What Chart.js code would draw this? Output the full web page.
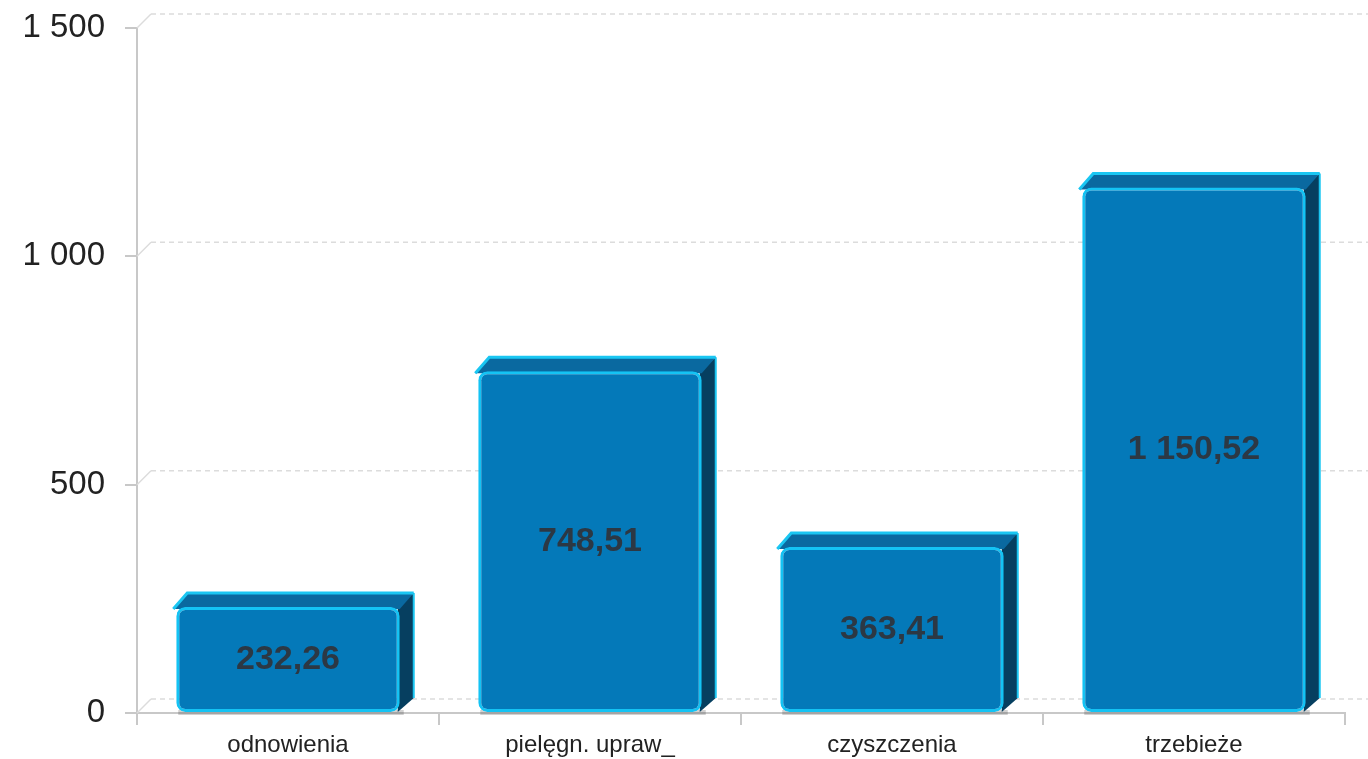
<!DOCTYPE html>
<html>
<head>
<meta charset="utf-8">
<script src="https://cdn.jsdelivr.net/npm/chart.js@4"></script>
<style>
  html, body { margin: 0; padding: 0; background: #fff; }
  #wrap { width: 1368px; height: 759px; position: relative; }
</style>
</head>
<body>
<div id="wrap"><canvas id="chart"></canvas></div>
<script>
'use strict';

// data
const categories = ['odnowienia', 'pielęgn. upraw_', 'czyszczenia', 'trzebieże'];
const values = [232.26, 748.51, 363.41, 1150.52];
const yTicks = [0, 500, 1000, 1500];

const DEPTH = 14;

// polish style number: "1 150,52"
const fmt = (v, dec) => {
    const parts = v.toFixed(dec).split('.');
    const int = parts[0].replace(/\B(?=(\d{3})+(?!\d))/g, ' ');
    return parts[1] ? int + ',' + parts[1] : int;
};

// fake 3d: back grid, bar tops and sides, then the value labels
const pseudo3d = {
    id: 'pseudo3d',
    beforeDatasetsDraw(chart) {
        const { ctx, chartArea, scales } = chart;
        const y = scales.y;
        ctx.save();
        ctx.strokeStyle = '#dcdcdc';
        ctx.lineWidth = 1.5;
        yTicks.forEach(t => {
            const py = y.getPixelForValue(t);
            ctx.setLineDash([]);
            ctx.beginPath();
            ctx.moveTo(chartArea.left, py);
            ctx.lineTo(chartArea.left + DEPTH, py - DEPTH);
            ctx.stroke();
            ctx.setLineDash([5, 4]);
            ctx.beginPath();
            ctx.moveTo(chartArea.left + DEPTH, py - DEPTH);
            ctx.lineTo(chart.width, py - DEPTH);
            ctx.stroke();
        });
        ctx.setLineDash([]);

        chart.getDatasetMeta(0).data.forEach(bar => {
            const { x, y: top, base, width } = bar.getProps(['x', 'y', 'base', 'width'], true);
            const l = x - width / 2, r = x + width / 2;
            // shadow
            ctx.fillStyle = 'rgba(0,0,0,0.18)';
            ctx.fillRect(l + 2, base - 2, width + 2, 5);
            // side face
            ctx.fillStyle = '#063f60';
            ctx.beginPath();
            ctx.moveTo(r - 2, top);
            ctx.lineTo(r + DEPTH, top - DEPTH);
            ctx.lineTo(r + DEPTH, base - DEPTH);
            ctx.lineTo(r - 2, base);
            ctx.closePath();
            ctx.fill();
            ctx.strokeStyle = '#1ac6f2';
            ctx.lineWidth = 2;
            ctx.beginPath();
            ctx.moveTo(r + DEPTH, top - DEPTH);
            ctx.lineTo(r + DEPTH, base - DEPTH);
            ctx.stroke();
            // top face
            ctx.fillStyle = '#0a69a0';
            ctx.beginPath();
            ctx.moveTo(l - 3, top + 2);
            ctx.lineTo(l - 3 + DEPTH, top - DEPTH);
            ctx.lineTo(r + DEPTH, top - DEPTH);
            ctx.lineTo(r, top + 2);
            ctx.closePath();
            ctx.fill();
            ctx.strokeStyle = '#1ac6f2';
            ctx.lineWidth = 3;
            ctx.beginPath();
            ctx.moveTo(l - 3, top + 2);
            ctx.lineTo(l - 3 + DEPTH, top - DEPTH);
            ctx.lineTo(r + DEPTH, top - DEPTH);
            ctx.stroke();
        });
        ctx.restore();
    },
    afterDatasetsDraw(chart) {
        const { ctx } = chart;
        ctx.save();
        ctx.font = 'bold 34px "Liberation Sans", Arial, sans-serif';
        ctx.fillStyle = '#2c3844';
        ctx.textAlign = 'center';
        ctx.textBaseline = 'middle';
        chart.getDatasetMeta(0).data.forEach((bar, i) => {
            const { x, y, base } = bar.getProps(['x', 'y', 'base'], true);
            ctx.fillText(fmt(values[i], 2), x, (y + base) / 2);
        });
        ctx.restore();
    }
};

new Chart(document.getElementById('chart'), {
    type: 'bar',
    data: {
        labels: categories,
        datasets: [{
            data: values,
            backgroundColor: '#0479b9',
            borderColor: '#14c3f4',
            borderWidth: 3,
            borderRadius: 9,
            borderSkipped: false,
            barPercentage: 0.74,
            categoryPercentage: 1
        }]
    },
    plugins: [pseudo3d],
    options: {
        responsive: true,
        maintainAspectRatio: false,
        animation: false,
        layout: { padding: { top: 28, right: 23, left: 0, bottom: 0 } },
        plugins: {
            legend: { display: false },
            tooltip: { enabled: false }
        },
        scales: {
            x: {
                afterFit: s => { s.height = 46; },
                grid: { drawOnChartArea: false, tickLength: 12, color: '#c8c8c8', lineWidth: 2 },
                border: { color: '#c8c8c8', width: 2 },
                ticks: {
                    padding: 6,
                    color: '#222',
                    font: { family: '"Liberation Sans", Arial, sans-serif', size: 24 }
                }
            },
            y: {
                min: 0,
                max: 1500,
                afterFit: s => { s.width = 137; s.paddingTop = 0; s.paddingBottom = 0; },
                afterBuildTicks: s => { s.ticks = yTicks.map(v => ({ value: v })); },
                grid: { drawOnChartArea: false, tickLength: 12, color: '#c8c8c8', lineWidth: 2 },
                border: { color: '#c8c8c8', width: 2 },
                ticks: {
                    padding: 20,
                    color: '#222',
                    font: { family: '"Liberation Sans", Arial, sans-serif', size: 33 },
                    callback: v => fmt(v, 0)
                }
            }
        }
    }
});
</script>
</body>
</html>
